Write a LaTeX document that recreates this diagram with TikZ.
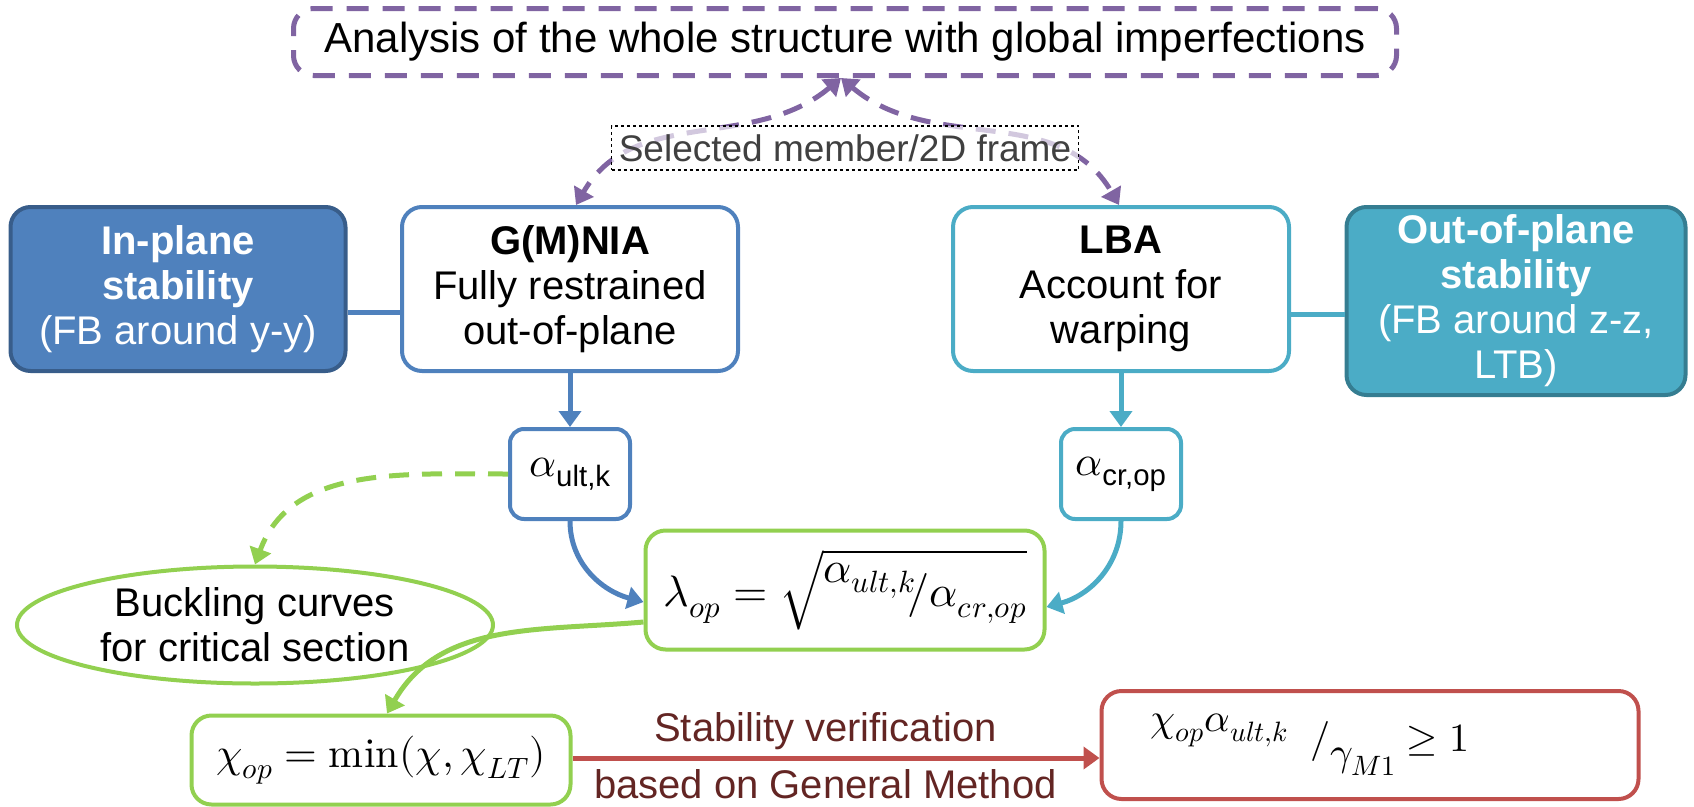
\documentclass[tikz,border=0pt]{standalone}
\usepackage{amsmath}
\usepackage{fontspec}
\usepackage{unicode-math}
\setmainfont{Liberation Sans}
\setmathfont{Latin Modern Math}
\usetikzlibrary{arrows.meta,shapes.geometric}

\definecolor{purp}{HTML}{8064A2}
\definecolor{bluebox}{HTML}{4F81BD}
\definecolor{blueedge}{HTML}{385D8A}
\definecolor{tealbox}{HTML}{4BACC6}
\definecolor{tealedge}{HTML}{357D91}
\definecolor{grn}{HTML}{92D050}
\definecolor{redbox}{HTML}{C0504D}
\definecolor{redtext}{HTML}{632523}
\definecolor{labelgray}{HTML}{404040}

\tikzset{
  box/.style={draw, rounded corners=20pt, line width=4pt, fill=white, align=center,
    inner sep=0pt, font=\fontsize{40}{45}\selectfont},
  smallbox/.style={box, rounded corners=14pt, minimum width=120pt, minimum height=90pt},
  link/.style={line width=5pt, -{Triangle[length=16pt,width=22pt]}},
  dashlink/.style={line width=5pt, dash pattern=on 20pt off 13pt},
}

\begin{document}
\begin{tikzpicture}[x=1pt,y=1pt]
    \useasboundingbox (0,0) rectangle (1694,-806);
    % top level
    \node [box, draw=purp, line width=5pt, dash pattern=on 22pt off 14pt,
        minimum width=1103pt, minimum height=67pt, font=\fontsize{42}{46}\selectfont] (whole) at (845,-42)
        {Analysis of the whole structure with global imperfections};
    % analyses and stability boxes
    \node [box, fill=bluebox, draw=blueedge, text=white, minimum width=335pt, minimum height=164pt]
        (inplane) at (178,-289) {\textbf{In-plane}\\\textbf{stability}\\(FB around y-y)};
    \node [box, draw=bluebox, minimum width=336pt, minimum height=164pt]
        (gmnia) at (570,-289) {\textbf{G(M)NIA}\\Fully restrained\\out-of-plane};
    \node [box, draw=tealbox, minimum width=336pt, minimum height=164pt]
        (lba) at (1121,-289) {\textbf{LBA}\\Account for\\warping};
    \node [box, fill=tealbox, draw=tealedge, text=white, minimum width=339pt, minimum height=188pt]
        (outplane) at (1516,-301) {\textbf{Out-of-plane}\\\textbf{stability}\\(FB around z-z,\\LTB)};
    % load factors
    \node [smallbox, draw=bluebox, font=\fontsize{42}{46}\selectfont] (ault) at (570,-474) {$\alpha_{\text{ult,k}}$};
    \node [smallbox, draw=tealbox, font=\fontsize{42}{46}\selectfont] (acr) at (1121,-474) {$\alpha_{\text{cr,op}}$};
    \node [box, draw=grn, minimum width=399pt, minimum height=119pt, font=\fontsize{44}{48}\selectfont] (lambda) at (845,-590)
        {$\lambda_{op}=\sqrt{\raisebox{0.55em}{$\alpha_{ult,k}$}\!/\alpha_{cr,op}}$};
    \node [ellipse, draw=grn, line width=4pt, inner sep=0pt, align=center,
        minimum width=476pt, minimum height=117pt, font=\fontsize{40}{45}\selectfont]
        (buckling) at (255,-625) {Buckling curves\\for critical section};
    \node [box, draw=grn, minimum width=379pt, minimum height=89pt, font=\fontsize{42}{46}\selectfont] (chi) at (381,-760)
        {$\chi_{op}=\mathop{\symup{min}}\nolimits(\chi,\chi_{LT})$};
    \node [box, draw=redbox, minimum width=537pt, minimum height=108pt] (verif) at (1370,-745)
        {$\raisebox{0.5em}{$\chi_{op}\alpha_{ult,k}$}\;\;/\raisebox{-0.35em}{$\gamma_{M1}$}\geq 1$\hspace*{120pt}};

    % selected member arrows
    \draw [purp, dashlink, {Triangle[length=16pt,width=22pt]}-{Triangle[length=16pt,width=22pt]}]
        ([xshift=-4pt]whole.south) to[out=-140,in=60] ([xshift=6pt]gmnia.north);
    \draw [purp, dashlink, {Triangle[length=16pt,width=22pt]}-{Triangle[length=16pt,width=22pt]}]
        ([xshift=-4pt]whole.south) to[out=-40,in=120] ([xshift=-2pt]lba.north);
    \node [draw, dashed, line width=1.2pt, fill=white, fill opacity=0.65, text opacity=1,
        text=labelgray, inner sep=0pt, minimum width=467pt, minimum height=44pt,
        font=\fontsize{37}{40}\selectfont] (selected) at (845,-148) {Selected member/2D frame};

    % connectors
    \draw [bluebox, line width=5pt] ([yshift=-23pt]inplane.east) -- ([yshift=-23pt]gmnia.west);
    \draw [tealbox, line width=5pt] ([yshift=-25pt]lba.east) -- ([yshift=-13pt]outplane.west);
    \draw [link, bluebox] (gmnia.south) -- (ault.north);
    \draw [link, tealbox] (lba.south) -- (acr.north);
    \draw [link, bluebox] (ault.south) to[out=-90,in=165] ([yshift=-12pt]lambda.west);
    \draw [link, tealbox] (acr.south) to[out=-90,in=15] ([yshift=-17pt]lambda.east);
    \draw [grn, dashlink, -{Triangle[length=16pt,width=22pt]}] (ault.west) to[out=180,in=70] (buckling.north);
    \draw [link, grn] ([yshift=-32pt]lambda.west) to[out=185,in=60] ([xshift=6pt]chi.north);
    \draw [link, redbox] ([yshift=2pt]chi.east) -- ([yshift=2pt]chi.east -| verif.west)
        node [pos=0.48, yshift=27pt, text=redtext, font=\fontsize{40}{45}\selectfont] (stabtext) {Stability verification}
        node [pos=0.48, yshift=-26pt, text=redtext, font=\fontsize{40}{45}\selectfont] (gmtext) {based on General Method};
\end{tikzpicture}
\end{document}
